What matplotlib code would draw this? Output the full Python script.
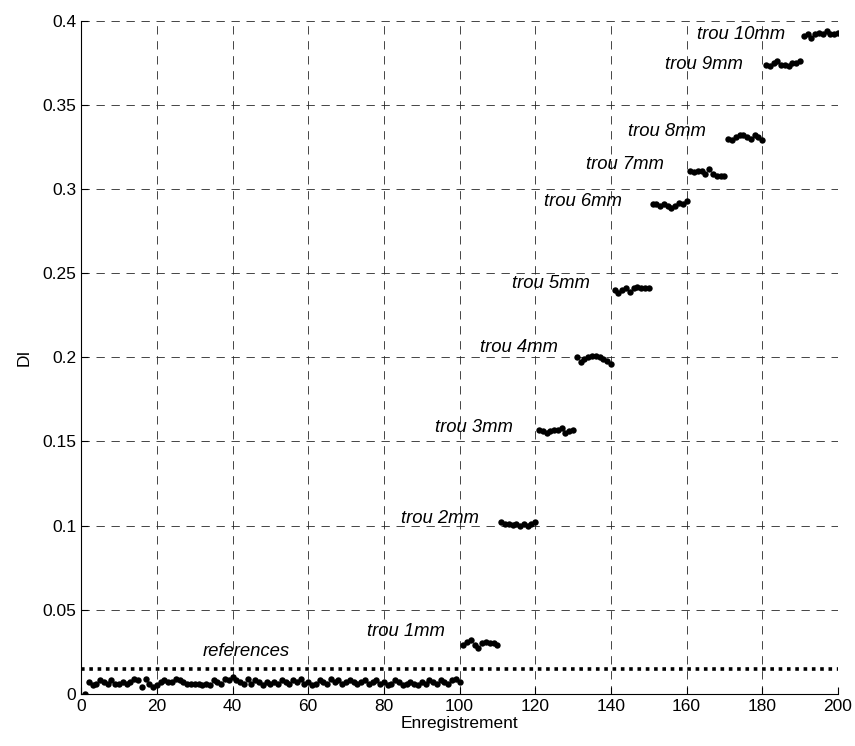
import numpy as np
import matplotlib
matplotlib.use("Agg")
import matplotlib.pyplot as plt

plt.rcParams['font.family'] = ['Liberation Sans', 'DejaVu Sans']

# recordings 1..100 : references (no hole)
ref_values = [
    0.000, 0.007, 0.005, 0.006, 0.008, 0.007, 0.006, 0.008, 0.006, 0.006,
    0.007, 0.006, 0.007, 0.009, 0.008, 0.004, 0.009, 0.006, 0.004, 0.005,
    0.007, 0.008, 0.007, 0.007, 0.009, 0.008, 0.007, 0.006, 0.006, 0.006,
    0.006, 0.005, 0.006, 0.005, 0.008, 0.007, 0.006, 0.009, 0.008, 0.010,
    0.008, 0.007, 0.006, 0.009, 0.006, 0.008, 0.007, 0.005, 0.007, 0.006,
    0.007, 0.006, 0.008, 0.007, 0.006, 0.008, 0.007, 0.009, 0.006, 0.007,
    0.005, 0.006, 0.008, 0.007, 0.006, 0.009, 0.007, 0.008, 0.006, 0.007,
    0.008, 0.007, 0.006, 0.007, 0.008, 0.006, 0.007, 0.008, 0.006, 0.007,
    0.005, 0.006, 0.008, 0.007, 0.005, 0.006, 0.007, 0.006, 0.005, 0.007,
    0.006, 0.008, 0.007, 0.006, 0.008, 0.007, 0.006, 0.008, 0.009, 0.007,
]
# recordings 101..200 : holes 1mm .. 10mm, 10 recordings each
hole_values = [
    [0.029, 0.031, 0.032, 0.029, 0.027, 0.030, 0.031, 0.030, 0.030, 0.029],
    [0.102, 0.101, 0.101, 0.1005, 0.101, 0.100, 0.101, 0.100, 0.101, 0.102],
    [0.157, 0.156, 0.155, 0.156, 0.157, 0.157, 0.158, 0.155, 0.156, 0.157],
    [0.200, 0.197, 0.199, 0.200, 0.201, 0.201, 0.200, 0.199, 0.198, 0.196],
    [0.240, 0.238, 0.240, 0.241, 0.239, 0.241, 0.242, 0.241, 0.241, 0.241],
    [0.291, 0.291, 0.290, 0.291, 0.290, 0.289, 0.290, 0.292, 0.291, 0.293],
    [0.311, 0.310, 0.311, 0.311, 0.309, 0.312, 0.309, 0.308, 0.308, 0.308],
    [0.330, 0.329, 0.331, 0.332, 0.332, 0.331, 0.330, 0.332, 0.331, 0.329],
    [0.374, 0.373, 0.375, 0.376, 0.374, 0.374, 0.373, 0.375, 0.375, 0.376],
    [0.391, 0.392, 0.390, 0.392, 0.393, 0.392, 0.394, 0.392, 0.392, 0.393],
]
hole_labels = ['trou %dmm' % d for d in range(1, 11)]
label_x = [96, 105, 114, 126, 134.5, 143, 154, 165, 175, 186]
label_y = [0.037, 0.104, 0.158, 0.206, 0.244, 0.2925, 0.3145, 0.334, 0.374, 0.392]
threshold = 0.0145

di = ref_values + [v for grp in hole_values for v in grp]
records = np.arange(1, len(di) + 1)

fig = plt.figure(figsize=(8.55, 7.46), dpi=100)
ax = fig.add_axes([0.095, 0.070, 0.885, 0.902])

ax.plot(records, di, 'o', color='black', markersize=4.6, markeredgewidth=0)
ax.plot([0, 200], [threshold, threshold], color='black', lw=2.6,
        linestyle=(0, (1, 1.3)))

ax.text(32, 0.025, 'references', style='italic', fontsize=13.3, va='center')
for lab, lx, ly in zip(hole_labels, label_x, label_y):
    ax.text(lx, ly, lab, style='italic', fontsize=13.3, ha='right', va='center')

ax.set_xlim(0, 200)
ax.set_ylim(0, 0.4)
ax.set_xticks(np.arange(0, 201, 20))
ax.set_yticks(np.arange(0, 0.401, 0.05))
ax.set_yticklabels(['0', '0.05', '0.1', '0.15', '0.2', '0.25', '0.3', '0.35', '0.4'])
ax.tick_params(direction='in', labelsize=12.5, length=5, width=0.8)
ax.grid(True, color='0.15', lw=0.6, linestyle=(0, (10, 8)))
ax.spines['top'].set_visible(False)
ax.spines['right'].set_visible(False)
ax.set_xlabel('Enregistrement', fontsize=12.5, labelpad=2)
ax.set_ylabel('DI', fontsize=12.5, labelpad=8)

fig.savefig('out.png', dpi=100)
